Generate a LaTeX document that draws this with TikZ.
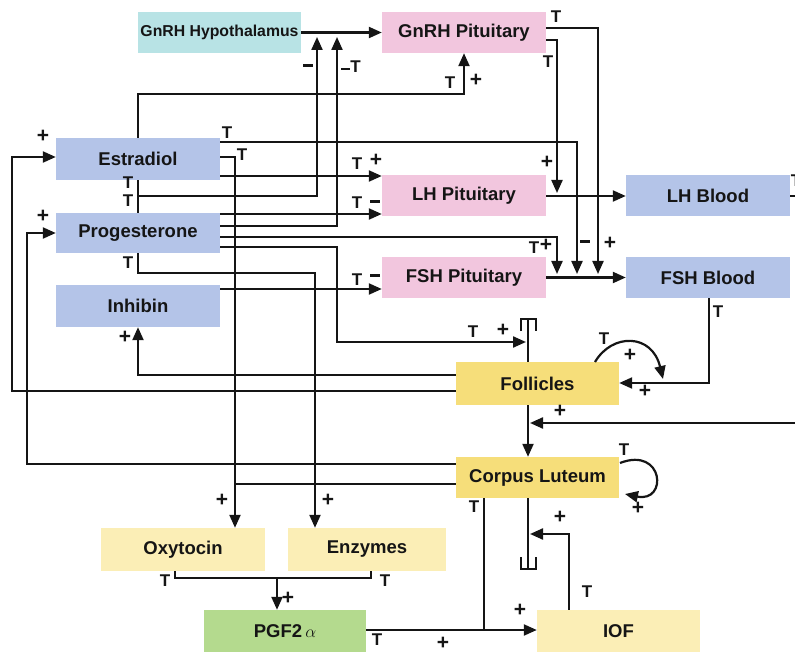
\documentclass[tikz,border=0pt]{standalone}
\usepackage{fontspec}
\setmainfont{Liberation Sans}
\usetikzlibrary{arrows.meta}
\definecolor{cyanbox}{HTML}{B8E3E5}
\definecolor{pinkbox}{HTML}{F2C6DE}
\definecolor{bluebox}{HTML}{B4C4E8}
\definecolor{yelbox}{HTML}{F6DE7A}
\definecolor{paleyel}{HTML}{FBEEB6}
\definecolor{greenbox}{HTML}{B4DA8E}
\definecolor{ink}{HTML}{151515}
\newcommand{\mn}{\rule[0.3ex]{0.55em}{0.14em}}
\newcommand{\pl}{{\fontsize{21}{21}\selectfont +}}
\begin{document}
\begin{tikzpicture}[x=1pt,y=-1pt,
  box/.style={rectangle, inner sep=0pt, minimum width=164pt, minimum height=41pt,
    font=\fontsize{18.5}{21}\selectfont\bfseries, text=ink},
  conn/.style={line width=2.2pt, draw=ink},
  arr/.style={conn, -{Triangle[length=13pt,width=11pt]}},
  stemcap/.style={line width=1.4pt, draw=ink},
  lab/.style={inner sep=0pt, font=\fontsize{17}{17}\selectfont\bfseries, text=ink}]
\useasboundingbox (0,0) rectangle (795,652);

% boxes
\node[box, fill=cyanbox, minimum width=163pt, font=\fontsize{15.8}{18}\selectfont\bfseries] (hyp) at (219.5,32.5) {GnRH Hypothalamus};
\node[box, fill=pinkbox] (gpit) at (464,32.5) {GnRH Pituitary};
\node[box, fill=bluebox, minimum height=42pt] (est) at (138,159) {Estradiol};
\node[box, fill=bluebox, minimum height=40pt] (prog) at (138,233) {Progesterone};
\node[box, fill=bluebox, minimum height=42pt] (inh) at (138,306) {Inhibin};
\node[box, fill=pinkbox] (lhp) at (464,196) {LH Pituitary};
\node[box, fill=pinkbox] (fshp) at (464,277.5) {FSH Pituitary};
\node[box, fill=bluebox] (lhb) at (708,196) {LH Blood};
\node[box, fill=bluebox] (fshb) at (708,277.5) {FSH Blood};
\node[box, fill=yelbox, minimum width=163pt, minimum height=43pt] (fol) at (537.5,383.5) {Follicles};
\node[box, fill=yelbox, minimum width=163pt] (cl) at (537.5,477.5) {Corpus Luteum};
\node[box, fill=paleyel, minimum height=43pt] (oxy) at (183,549.5) {Oxytocin};
\node[box, fill=paleyel, minimum width=158pt, minimum height=43pt] (enz) at (367,549.5) {Enzymes};
\node[box, fill=greenbox, minimum width=162pt, minimum height=42pt] (pgf) at (285,631) {PGF2\,$\alpha$};
\node[box, fill=paleyel, minimum width=163pt, minimum height=42pt] (iof) at (618.5,631) {IOF};

% free ends
\coordinate (hl1) at (317,37);
\coordinate (hl2) at (337,37);
\coordinate (lhl) at (557,193);
\coordinate (fl1) at (557,274);
\coordinate (fl2) at (577,274);
\coordinate (fl3) at (598,274);
\coordinate (fstem) at (526,342);
\coordinate (clstem) at (530,423);
\coordinate (clstem2) at (530,534);
\coordinate (redge) at (795,423);
\coordinate (redge2) at (795,196);
\coordinate (pgfj) at (484,630);

% GnRH
\draw[arr] (hyp.east) -- (gpit.west);
\draw[conn] (est.south) -- (prog.north);
\draw[arr] (est.south |- 0,196) -| (hl1);
\draw[arr] (prog.east |- 0,226) -| (hl2);
\draw[arr] (est.north) |- (gpit.south |- 0,94) -- (gpit.south);
\draw[arr] (gpit.east |- 0,40) -| (lhl);
\draw[arr] (gpit.east |- 0,28) -| (fl3);

% pituitary to blood
\draw[arr] (lhp.east) -- (lhb.west);
\draw[arr] (fshp.east) -- (fshb.west);
\draw[conn] (lhb.east) -- (redge2);

% estradiol outputs
\draw[arr] (est.east |- 0,142) -| (fl2);
\draw[arr] (est.east |- 0,157) -| (oxy.north -| 235,0);
\draw[arr] (est.east |- 0,176) -- (lhp.west |- 0,176);

% progesterone outputs
\draw[arr] (prog.east |- 0,214) -- (lhp.west |- 0,214);
\draw[arr] (prog.east |- 0,237) -| (fl1);
\draw[arr] (prog.east |- 0,247) -| (337,342) -- (fstem);
\draw[arr] (prog.south) |- (315,273) -- (enz.north -| 315,0);

% inhibin
\draw[arr] (inh.east |- 0,289) -- (fshp.west |- 0,289);

% follicles stem with cap
\draw[conn] (fol.north -| 528,0) -- (528,319);
\draw[stemcap] (521,331) -- (521,319) -- (536,319) -- (536,331);

% follicles outputs
\draw[arr] (fol.west |- 0,375) -| (inh.south);
\draw[arr] (fol.west |- 0,391) -| (12,157) -- (est.west |- 0,157);
\draw[arr] (fol.south -| 528,0) -- (cl.north -| 528,0);
\draw[arr] (redge) -- (clstem);
\draw[arr] (fshb.south -| 709,0) |- (fol.east |- 0,383);
\draw[arr] (595,362) .. controls (612,333) and (652,333) .. (663,379);

% corpus luteum
\draw[arr] (cl.west |- 0,464) -| (27,233) -- (prog.west |- 0,233);
\draw[conn] (cl.west |- 0,484) -- (235,484);
\draw[arr] (620,463) .. controls (664,446) and (668,503) .. (625,494);
\draw[conn] (cl.south -| 528,0) -- (528,569);
\draw[stemcap] (521,557) -- (521,569) -- (536,569) -- (536,557);
\draw[conn] (cl.south -| 484,0) -- (pgfj);

% PGF, IOF
\draw[arr] (pgf.east |- 0,630) -- (iof.west |- 0,630);
\draw[arr] (iof.north -| 569,0) |- (clstem2);
\draw[conn] (oxy.south -| 175,0) |- (371,578) -- (enz.south -| 371,0);
\draw[arr] (277,578) -- (pgf.north -| 277,0);

% labels
\node[lab] at (308,67) {\mn};
\node[lab] at (351,67) {\mn T};
\node[lab] at (450,83) {T};
\node[lab] at (476,80) {\pl};
\node[lab] at (556,17) {T};
\node[lab] at (548,62) {T};
\node[lab] at (227,133) {T};
\node[lab] at (242,155) {T};
\node[lab] at (128,183) {T};
\node[lab] at (128,201) {T};
\node[lab] at (128,263) {T};
\node[lab] at (43,136) {\pl};
\node[lab] at (43,216) {\pl};
\node[lab] at (357,164) {T};
\node[lab] at (376,160) {\pl};
\node[lab] at (357,203) {T};
\node[lab] at (375,203) {\mn};
\node[lab] at (357,280) {T};
\node[lab] at (375,277) {\mn};
\node[lab] at (547,162) {\pl};
\node[lab] at (534,248) {T};
\node[lab] at (546,245) {\pl};
\node[lab] at (585,243) {\mn};
\node[lab] at (610,243) {\pl};
\node[lab] at (473,332) {T};
\node[lab] at (503,330) {\pl};
\node[lab] at (125,337) {\pl};
\node[lab] at (718,312) {T};
\node[lab] at (604,339) {T};
\node[lab] at (630,355) {\pl};
\node[lab] at (645,391) {\pl};
\node[lab] at (560,411) {\pl};
\node[lab] at (624,450) {T};
\node[lab] at (638,508) {\pl};
\node[lab] at (474,507) {T};
\node[lab] at (560,517) {\pl};
\node[lab] at (222,500) {\pl};
\node[lab] at (328,500) {\pl};
\node[lab] at (165,581) {T};
\node[lab] at (385,581) {T};
\node[lab] at (288,598) {\pl};
\node[lab] at (377,640) {T};
\node[lab] at (443,643) {\pl};
\node[lab] at (520,610) {\pl};
\node[lab] at (587,592) {T};
\node[lab] at (796,181) {T};
\end{tikzpicture}
\end{document}
